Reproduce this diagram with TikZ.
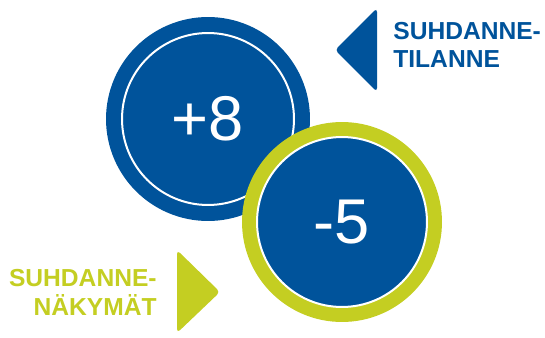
\documentclass[tikz,border=0pt]{standalone}
\usepackage{fontspec}
\setmainfont{Liberation Sans}
\definecolor{suhblue}{RGB}{0,83,155}
\definecolor{suhgreen}{RGB}{196,206,34}

\begin{document}
\begin{tikzpicture}[x=0.02cm,y=-0.02cm,
  disc/.style={circle,fill=#1,inner sep=0pt},
  ring/.style={circle,draw=white,line width=0.04cm,fill=suhblue,inner sep=0pt,minimum size=#1,
    text=white,font=\fontsize{36}{40}\selectfont},
  arrowhead/.style={fill=#1,rounded corners=0.08cm},
  label/.style={inner sep=0pt,text=#1,font=\fontsize{14}{16.5}\selectfont\bfseries}]
\useasboundingbox (0,0) rectangle (545,338);
% upper circle
\node at (208,119) [disc=suhblue,minimum size=4.08cm] (now) {};
\node at (now) [ring=3.44cm] (nowval) {+8};
% lower circle
\node at (342,222) [disc=suhgreen,minimum size=4.0cm] (next) {};
\node at (next) [ring=3.4cm] (nextval) {-5};
% arrows and labels
\fill[arrowhead=suhblue] (377,8) -- (335,50) -- (377,92) -- cycle;
\node at (393,68) [label=suhblue,anchor=base west,align=left] (tilanne) {SUHDANNE-\\TILANNE};
\fill[arrowhead=suhgreen] (177,250) -- (220,292) -- (177,333) -- cycle;
\node at (157,315) [label=suhgreen,anchor=base east,align=right] (nakymat) {SUHDANNE-\\NÄKYMÄT};
\end{tikzpicture}
\end{document}
